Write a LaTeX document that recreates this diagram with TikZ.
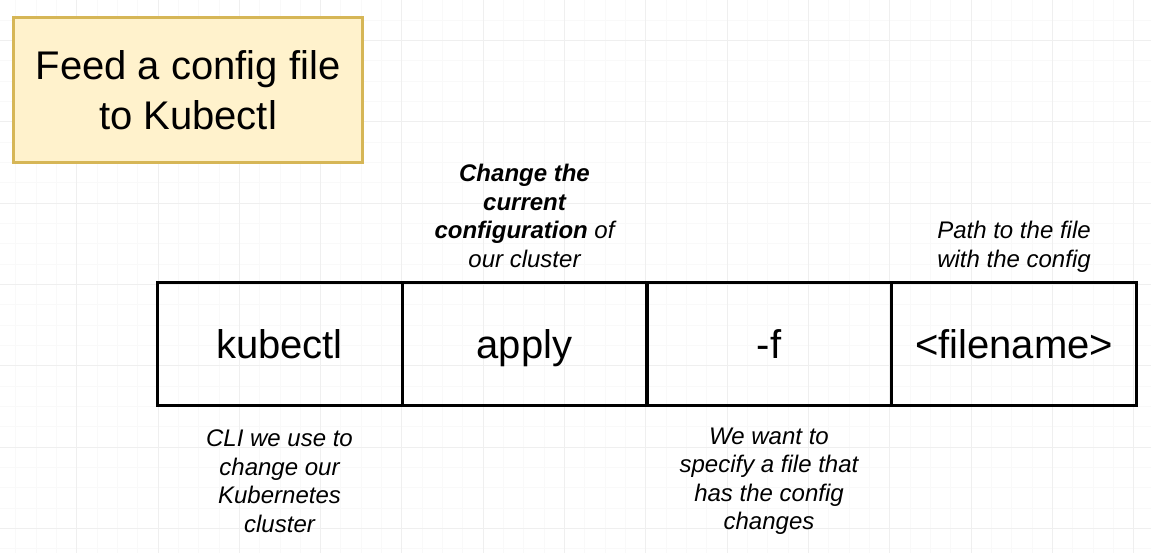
\documentclass[tikz,border=0pt]{standalone}
\usepackage{fontspec}
\setmainfont{Liberation Sans}
\definecolor{gridminor}{HTML}{F9F9F9}
\definecolor{gridmajor}{HTML}{EFEFEF}
\definecolor{notefill}{HTML}{FFF2CC}
\definecolor{notedraw}{HTML}{D6B656}
\begin{document}
\begin{tikzpicture}[x=1pt,y=-1pt,
  cell/.style={draw=black,line width=3pt,minimum width=245pt,minimum height=122pt,inner sep=0pt,
    text height=29pt,text depth=0pt,font=\fontsize{40}{48}\selectfont},
  annot/.style={align=center,inner sep=0pt,font=\fontsize{24}{28.5}\selectfont\itshape},
  titlebox/.style={draw=notedraw,fill=notefill,line width=3pt,minimum width=349pt,minimum height=145pt,
    inner sep=0pt,align=center,font=\fontsize{40}{50}\selectfont}]
\useasboundingbox (0,0) rectangle (1151,553);
\fill[white] (0,0) rectangle (1151,553);
% grid
\foreach \i in {-3,...,53} {
  \draw[gridminor,line width=1pt] ({76.7+\i*20.33},0) -- ({76.7+\i*20.33},553);
}
\foreach \i in {-1,...,26} {
  \draw[gridminor,line width=1pt] (0,{40.5+\i*20.33}) -- (1151,{40.5+\i*20.33});
}
\foreach \i in {0,...,13} {
  \draw[gridmajor,line width=1pt] ({76.7+\i*81.3},0) -- ({76.7+\i*81.3},553);
}
\foreach \i in {0,...,6} {
  \draw[gridmajor,line width=1pt] (0,{40.5+\i*81.3}) -- (1151,{40.5+\i*81.3});
}
% title
\node[titlebox] (title) at (188,90.5) {Feed a config file\\to Kubectl};
% command cells
\node[cell] (kubectl) at (279.5,344) {kubectl};
\node[cell] (apply) at (524.5,344) {apply};
\node[cell] (flag) at (769,344) {-f};
\node[cell] (filename) at (1014,344) {<filename>};
% annotations
\node[annot] (applynote) at (524.5,216) {\textbf{Change the}\\\textbf{current}\\\textbf{configuration} of\\our cluster};
\node[annot] (pathnote) at (1014,247) {Path to the file\\with the config};
\node[annot] (clinote) at (279.5,481) {CLI we use to\\change our\\Kubernetes\\cluster};
\node[annot] (flagnote) at (769,481) {We want to\\specify a file that\\has the config\\changes};
\end{tikzpicture}
\end{document}
